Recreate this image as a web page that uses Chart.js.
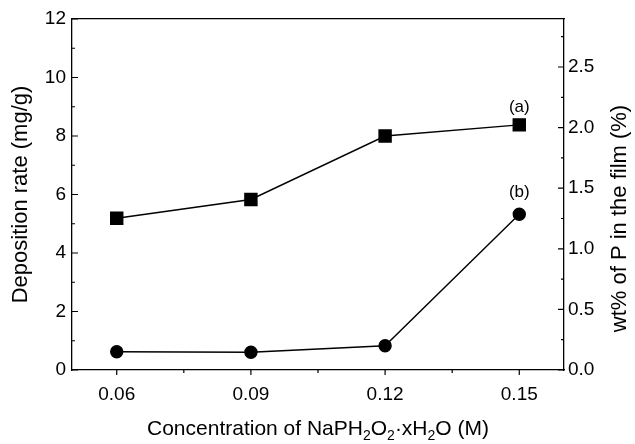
<!DOCTYPE html>
<html>
<head>
<meta charset="utf-8">
<script src="https://cdn.jsdelivr.net/npm/chart.js@4"></script>
<style>
  body { margin: 0; background: #fff; }
  #wrap { width: 635px; height: 444px; }
</style>
</head>
<body>
<div id="wrap"><canvas id="myChart" width="635" height="444"></canvas></div>
<script>
// concentration of NaPH2O2.xH2O (M)
const concentrations = [0.06, 0.09, 0.12, 0.15]
// (a) deposition rate, mg/g (left axis)
const depositionRate = [5.19, 5.83, 8.0, 8.38]
// (b) wt% of P in the film (right axis)
const phosphorusWt = [0.151, 0.146, 0.2, 1.285]

const xTicks = [0.06, 0.09, 0.12, 0.15]
const xMinorTicks = [0.075, 0.105, 0.135]
const leftTicks = [0, 2, 4, 6, 8, 10, 12]
const leftMinorTicks = [1, 3, 5, 7, 9, 11]
const rightTicks = [0, 0.5, 1.0, 1.5, 2.0, 2.5]
const rightMinorTicks = [0.25, 0.75, 1.25, 1.75, 2.25, 2.75]
const seriesTags = ["(a)", "(b)"]

const FONT = "'Liberation Sans', Arial, sans-serif"
const ctx = document.getElementById('myChart').getContext('2d')

const toPoints = (xs, ys) => xs.map((x, i) => ({ x: x, y: ys[i] }))

// ticks, axis titles and the (a)/(b) tags
const decorations = {
    id: 'decorations',
    afterDraw(chart) {
        const c = chart.ctx
        const area = chart.chartArea
        const sx = chart.scales.x, sy = chart.scales.y, sy2 = chart.scales.y2
        c.save()
        c.strokeStyle = '#000'
        c.lineWidth = 1.2
        c.beginPath()
        xTicks.forEach(v => { const p = sx.getPixelForValue(v); c.moveTo(p, area.bottom); c.lineTo(p, area.bottom + 5) })
        xMinorTicks.forEach(v => { const p = sx.getPixelForValue(v); c.moveTo(p, area.bottom); c.lineTo(p, area.bottom + 3) })
        leftTicks.forEach(v => { const p = sy.getPixelForValue(v); c.moveTo(area.left, p); c.lineTo(area.left + 6, p) })
        leftMinorTicks.forEach(v => { const p = sy.getPixelForValue(v); c.moveTo(area.left, p); c.lineTo(area.left + 3, p) })
        rightTicks.forEach(v => { const p = sy2.getPixelForValue(v); c.moveTo(area.right, p); c.lineTo(area.right - 6, p) })
        rightMinorTicks.forEach(v => { const p = sy2.getPixelForValue(v); c.moveTo(area.right, p); c.lineTo(area.right - 3, p) })
        c.stroke()

        c.fillStyle = '#000'
        c.font = '17px ' + FONT
        c.textAlign = 'center'
        c.textBaseline = 'middle'
        const lastA = chart.getDatasetMeta(0).data[3]
        const lastB = chart.getDatasetMeta(1).data[3]
        c.fillText(seriesTags[0], lastA.x, lastA.y - 18)
        c.fillText(seriesTags[1], lastB.x, lastB.y - 22)

        // axis titles
        c.font = '22px ' + FONT
        c.save()
        c.translate(21, (area.top + area.bottom) / 2)
        c.rotate(-Math.PI / 2)
        c.fillText('Deposition rate (mg/g)', 0, 0)
        c.restore()
        c.save()
        c.translate(620, (area.top + area.bottom) / 2 + 24)
        c.rotate(-Math.PI / 2)
        c.fillText('wt% of P in the film (%)', 0, 0)
        c.restore()

        // x title with subscripts
        const parts = [['Concentration of NaPH', 0], ['2', 1], ['O', 0], ['2', 1], ['\u00b7xH', 0], ['2', 1], ['O (M)', 0]]
        const big = '21px ' + FONT, small = '14px ' + FONT
        let total = 0
        parts.forEach(p => { c.font = p[1] ? small : big; total += c.measureText(p[0]).width })
        let x = (area.left + area.right) / 2 - total / 2
        const y = 429
        c.textAlign = 'left'
        parts.forEach(p => {
            c.font = p[1] ? small : big
            c.fillText(p[0], x, p[1] ? y + 7 : y)
            x += c.measureText(p[0]).width
        })
        c.restore()
    }
}

let myChart = new Chart(ctx, {
    type: 'line',
    data: {
        datasets: [{
            label: 'deposition rate',
            data: toPoints(concentrations, depositionRate),
            yAxisID: 'y',
            borderColor: '#000',
            backgroundColor: '#000',
            borderWidth: 1.4,
            pointStyle: 'rect',
            pointRadius: 8.5,
            pointHoverRadius: 8.5
        }, {
            label: 'wt% P',
            data: toPoints(concentrations, phosphorusWt),
            yAxisID: 'y2',
            borderColor: '#000',
            backgroundColor: '#000',
            borderWidth: 1.4,
            pointStyle: 'circle',
            pointRadius: 6,
            pointHoverRadius: 6
        }]
    },
    options: {
        responsive: false,
        animation: false,
        layout: { padding: { top: 19, left: 0, right: 0, bottom: 0 } },
        plugins: { legend: { display: false }, tooltip: { enabled: false } },
        scales: {
            x: {
                type: 'linear',
                min: 0.05,
                max: 0.16,
                afterBuildTicks: s => { s.ticks = xTicks.map(v => ({ value: v })) },
                afterFit: s => { s.height = 74 },
                grid: { display: false, drawTicks: false },
                border: { display: true, color: '#000', width: 1.3 },
                ticks: { color: '#000', padding: 13, font: { family: FONT, size: 19 }, callback: v => v.toFixed(2), maxRotation: 0 }
            },
            y: {
                position: 'left',
                min: 0,
                max: 12,
                afterBuildTicks: s => { s.ticks = leftTicks.map(v => ({ value: v })) },
                afterFit: s => { s.width = 72 },
                grid: { display: false, drawTicks: false },
                border: { display: true, color: '#000', width: 1.3 },
                ticks: { color: '#000', padding: 6, font: { family: FONT, size: 19 } }
            },
            y2: {
                position: 'right',
                min: 0,
                max: 2.896,
                afterBuildTicks: s => { s.ticks = rightTicks.map(v => ({ value: v })) },
                afterFit: s => { s.width = 71 },
                grid: { display: false, drawTicks: false },
                border: { display: true, color: '#000', width: 1.3 },
                ticks: { color: '#000', padding: 4, font: { family: FONT, size: 19 }, callback: v => v.toFixed(1) }
            },
            top: {
                position: 'top',
                type: 'linear',
                min: 0,
                max: 1,
                afterFit: s => { s.height = 0 },
                grid: { display: false, drawTicks: false },
                border: { display: true, color: '#000', width: 1.3 },
                ticks: { display: false }
            }
        }
    },
    plugins: [decorations]
})
</script>
</body>
</html>
